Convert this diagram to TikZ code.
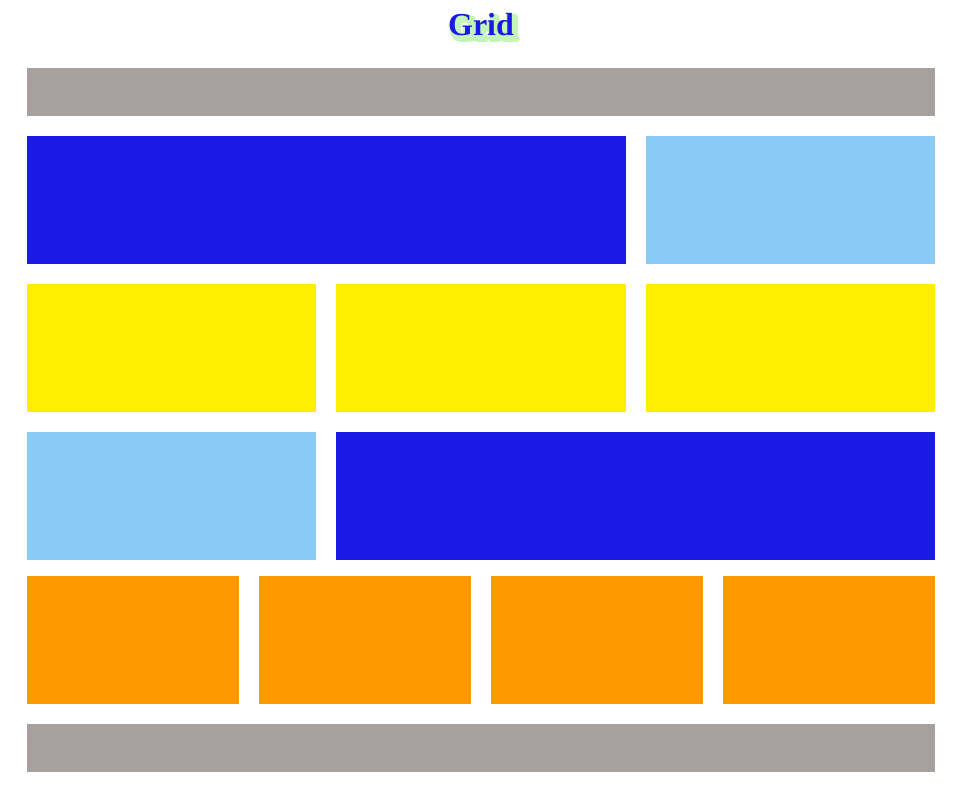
\documentclass[tikz,border=0pt]{standalone}
\usepackage{fontspec}
\setmainfont{Liberation Serif}
\definecolor{cgray}{HTML}{A89F9F}
\definecolor{cblue}{HTML}{1A1AE6}
\definecolor{clight}{HTML}{89CBF5}
\definecolor{cyellow}{HTML}{FFEE00}
\definecolor{corange}{HTML}{FF9900}
\definecolor{cglow}{HTML}{C4F5B8}
\tikzset{titlefont/.style={font=\bfseries\fontsize{32}{36}\selectfont}}
\newcommand{\glowtext}[1]{\special{pdf:literal direct 2 Tr 1 j 6 w}#1\special{pdf:literal direct 0 Tr}}
\begin{document}
\begin{tikzpicture}[x=1pt,y=-1pt]
\useasboundingbox (0,0) rectangle (964,799);
% soft title glow
\node (glow) [text=cglow, titlefont] at (484,28) {\glowtext{Grid}};
\node (title) [text=cblue, titlefont] at (481,25) {Grid};
% rows
\fill[cgray] (27,68) rectangle (935,116);
\fill[cblue] (27,136) rectangle (626,264);
\fill[clight] (646,136) rectangle (935,264);
\fill[cyellow] (27,284) rectangle (316,412);
\fill[cyellow] (336,284) rectangle (626,412);
\fill[cyellow] (646,284) rectangle (935,412);
\fill[clight] (27,432) rectangle (316,560);
\fill[cblue] (336,432) rectangle (935,560);
\fill[corange] (27,576) rectangle (239,704);
\fill[corange] (259,576) rectangle (471,704);
\fill[corange] (491,576) rectangle (703,704);
\fill[corange] (723,576) rectangle (935,704);
\fill[cgray] (27,724) rectangle (935,772);
\end{tikzpicture}
\end{document}
